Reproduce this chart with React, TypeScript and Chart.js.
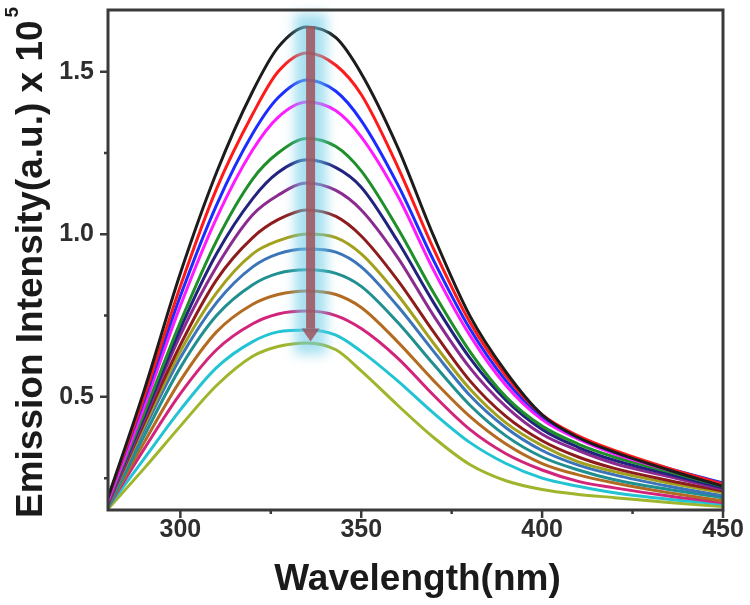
import React, { useEffect, useRef } from 'react';
import { Chart, registerables } from 'chart.js';

Chart.register(...registerables);

// ---- data ----
const WAVELENGTHS = [280, 290, 300, 310, 320, 327, 335, 343, 350, 360, 370, 380, 390, 400, 410, 420, 435, 450];

const S_BLACK = [0.19, 0.52, 0.88, 1.19, 1.44, 1.575, 1.638, 1.605, 1.495, 1.27, 0.995, 0.75, 0.577, 0.445, 0.375, 0.33, 0.275, 0.225];
const S_RED = [0.19, 0.50, 0.84, 1.14, 1.37, 1.50, 1.558, 1.52, 1.43, 1.21, 0.955, 0.73, 0.565, 0.445, 0.38, 0.335, 0.28, 0.232];
const S_BLUE = [0.19, 0.49, 0.81, 1.09, 1.31, 1.42, 1.475, 1.44, 1.35, 1.155, 0.92, 0.71, 0.55, 0.44, 0.375, 0.33, 0.28, 0.235];
const S_MAGENTA = [0.18, 0.47, 0.78, 1.05, 1.26, 1.36, 1.407, 1.38, 1.30, 1.12, 0.89, 0.69, 0.535, 0.43, 0.37, 0.325, 0.275, 0.232];
const S_GREEN = [0.18, 0.45, 0.73, 0.98, 1.17, 1.25, 1.295, 1.27, 1.195, 1.02, 0.82, 0.64, 0.50, 0.41, 0.355, 0.315, 0.27, 0.225];
const S_NAVY = [0.18, 0.44, 0.71, 0.94, 1.11, 1.19, 1.229, 1.205, 1.145, 0.98, 0.79, 0.62, 0.49, 0.40, 0.345, 0.305, 0.262, 0.22];
const S_PURPLE = [0.17, 0.43, 0.69, 0.90, 1.06, 1.12, 1.158, 1.135, 1.075, 0.93, 0.75, 0.59, 0.47, 0.385, 0.335, 0.295, 0.255, 0.215];
const S_BROWN = [0.17, 0.42, 0.66, 0.86, 0.99, 1.045, 1.075, 1.055, 0.995, 0.86, 0.70, 0.55, 0.44, 0.365, 0.315, 0.28, 0.243, 0.21];
const S_OLIVE = [0.17, 0.41, 0.64, 0.82, 0.94, 0.98, 1.001, 0.99, 0.94, 0.815, 0.665, 0.525, 0.42, 0.35, 0.30, 0.27, 0.235, 0.205];
const S_STEEL = [0.17, 0.40, 0.62, 0.79, 0.90, 0.94, 0.955, 0.945, 0.90, 0.78, 0.64, 0.505, 0.405, 0.335, 0.29, 0.26, 0.225, 0.195];
const S_TEAL = [0.16, 0.38, 0.59, 0.75, 0.845, 0.88, 0.891, 0.88, 0.84, 0.73, 0.60, 0.475, 0.38, 0.315, 0.275, 0.245, 0.215, 0.19];
const S_ORANGE = [0.16, 0.36, 0.55, 0.70, 0.785, 0.815, 0.826, 0.815, 0.775, 0.67, 0.55, 0.44, 0.355, 0.295, 0.26, 0.235, 0.205, 0.18];
const S_CRIMSON = [0.16, 0.34, 0.51, 0.645, 0.725, 0.755, 0.764, 0.75, 0.71, 0.62, 0.505, 0.40, 0.325, 0.275, 0.24, 0.22, 0.195, 0.175];
const S_CYAN = [0.16, 0.31, 0.46, 0.59, 0.67, 0.70, 0.706, 0.69, 0.64, 0.55, 0.45, 0.36, 0.295, 0.25, 0.225, 0.205, 0.185, 0.17];
const S_YGREEN = [0.155, 0.28, 0.41, 0.535, 0.625, 0.655, 0.666, 0.645, 0.58, 0.475, 0.375, 0.292, 0.242, 0.215, 0.20, 0.19, 0.175, 0.163];

const SERIES = [S_BLACK, S_RED, S_BLUE, S_MAGENTA, S_GREEN, S_NAVY, S_PURPLE, S_BROWN, S_OLIVE, S_STEEL, S_TEAL, S_ORANGE, S_CRIMSON, S_CYAN, S_YGREEN];
const COLORS = ['#1c1c1c', '#ff1a1a', '#1a2cff', '#ff1aff', '#1f8f2a', '#22227f', '#8b2a8f', '#8e1c1c', '#a3a01e', '#3b74b8', '#1f8f8f', '#b36b22', '#d2247a', '#22c4d4', '#9fb52c'];

const X_MIN = 280;
const X_MAX = 450;
const Y_MIN = 0.152;
const Y_MAX = 1.69;
const X_MAJOR = [300, 350, 400, 450];
const X_MINOR = [325, 375, 425];
const Y_MAJOR = [0.5, 1.0, 1.5];
const Y_MINOR = [0.25, 0.75, 1.25];

// arrow annotation (in data units)
const ARROW_WL = 336;
const ARROW_TOP = 1.64;
const ARROW_HEAD = 0.71;
const ARROW_TIP = 0.67;
const GLOW_TOP = 1.68;
const GLOW_BOTTOM = 0.63;

const X_TITLE = 'Wavelength(nm)';
const Y_TITLE = 'Emission Intensity(a.u.) x 10';
const Y_TITLE_SUP = '5';

const FONT = '"Liberation Sans", Arial, sans-serif';
const AXIS_COLOR = '#3a3a3a';

const decorPlugin = {
  id: 'decor',
  afterDatasetsDraw(chart: any) {
    const ctx = chart.ctx as CanvasRenderingContext2D;
    const xs = chart.scales.x;
    const ys = chart.scales.y;
    const cx = xs.getPixelForValue(ARROW_WL);
    const gTop = ys.getPixelForValue(GLOW_TOP);
    const gBot = ys.getPixelForValue(GLOW_BOTTOM);
    // glow
    ctx.save();
    ctx.filter = 'blur(6px)';
    ctx.fillStyle = 'rgba(110, 205, 232, 0.6)';
    ctx.fillRect(cx - 16, gTop, 32, gBot - gTop);
    ctx.restore();
    // arrow shaft
    const top = ys.getPixelForValue(ARROW_TOP);
    const head = ys.getPixelForValue(ARROW_HEAD);
    const tip = ys.getPixelForValue(ARROW_TIP);
    ctx.save();
    ctx.fillStyle = 'rgba(160, 82, 92, 0.85)';
    ctx.fillRect(cx - 4.5, top, 9, head - top);
    ctx.beginPath();
    ctx.moveTo(cx - 9, head);
    ctx.lineTo(cx + 9, head);
    ctx.lineTo(cx, tip);
    ctx.closePath();
    ctx.fill();
    ctx.restore();
  },
  afterDraw(chart: any) {
    const ctx = chart.ctx as CanvasRenderingContext2D;
    const a = chart.chartArea;
    const xs = chart.scales.x;
    const ys = chart.scales.y;
    ctx.save();
    ctx.strokeStyle = AXIS_COLOR;
    ctx.lineWidth = 3;
    ctx.strokeRect(a.left, a.top, a.right - a.left, a.bottom - a.top);
    ctx.lineWidth = 2.5;
    ctx.beginPath();
    X_MAJOR.forEach((v) => {
      const p = xs.getPixelForValue(v);
      ctx.moveTo(p, a.bottom);
      ctx.lineTo(p, a.bottom + 8);
    });
    X_MINOR.forEach((v) => {
      const p = xs.getPixelForValue(v);
      ctx.moveTo(p, a.bottom);
      ctx.lineTo(p, a.bottom + 4);
    });
    Y_MAJOR.forEach((v) => {
      const p = ys.getPixelForValue(v);
      ctx.moveTo(a.left, p);
      ctx.lineTo(a.left - 8, p);
    });
    Y_MINOR.forEach((v) => {
      const p = ys.getPixelForValue(v);
      ctx.moveTo(a.left, p);
      ctx.lineTo(a.left - 4, p);
    });
    ctx.stroke();

    // titles
    ctx.fillStyle = '#1a1a1a';
    ctx.font = `bold 37px ${FONT}`;
    ctx.textAlign = 'center';
    ctx.textBaseline = 'alphabetic';
    ctx.fillText(X_TITLE, (a.left + a.right) / 2 + 2, 590);

    ctx.translate(42, 518);
    ctx.rotate(-Math.PI / 2);
    ctx.textAlign = 'left';
    ctx.font = `bold 37px ${FONT}`;
    ctx.fillText(Y_TITLE, 0, 0);
    const w = ctx.measureText(Y_TITLE).width;
    ctx.font = `bold 19px ${FONT}`;
    ctx.fillText(Y_TITLE_SUP, w + 3, -24);
    ctx.restore();
  },
};

const zeroPad = (s: any) => {
  s.paddingTop = 0;
  s.paddingBottom = 0;
  s.paddingLeft = 0;
  s.paddingRight = 0;
};

export default function App() {
  const ref = useRef<HTMLCanvasElement>(null);
  useEffect(() => {
    document.body.style.margin = '0';
    const datasets = SERIES.map((s, i) => ({
      label: `c${i}`,
      data: WAVELENGTHS.map((w, j) => ({ x: w, y: s[j] })),
      borderColor: COLORS[i],
      backgroundColor: COLORS[i],
      borderWidth: 3,
      pointRadius: 0,
      fill: false,
      cubicInterpolationMode: 'monotone' as const,
    }));
    const tickFont = { family: FONT, size: 25, weight: 'bold' as const };
    const chart = new Chart(ref.current!, {
      type: 'line',
      data: { datasets },
      plugins: [decorPlugin],
      options: {
        responsive: false,
        animation: false,
        layout: { padding: { top: 10, right: 27, left: 0, bottom: 0 } },
        plugins: { legend: { display: false }, tooltip: { enabled: false } },
        scales: {
          x: {
            type: 'linear',
            min: X_MIN,
            max: X_MAX,
            afterBuildTicks: (s: any) => {
              s.ticks = X_MAJOR.map((v) => ({ value: v }));
            },
            afterFit: (s: any) => {
              s.height = 95;
              zeroPad(s);
            },
            grid: { display: false, drawTicks: false },
            border: { display: false },
            ticks: {
              padding: 5,
              font: tickFont,
              color: '#2e2e2e',
              maxRotation: 0,
              autoSkip: false,
              callback: (v: any) => String(v),
            },
          },
          y: {
            type: 'linear',
            min: Y_MIN,
            max: Y_MAX,
            afterBuildTicks: (s: any) => {
              s.ticks = Y_MAJOR.map((v) => ({ value: v }));
            },
            afterFit: (s: any) => {
              s.width = 108;
              zeroPad(s);
            },
            grid: { display: false, drawTicks: false },
            border: { display: false },
            ticks: {
              padding: 14,
              font: tickFont,
              color: '#2e2e2e',
              autoSkip: false,
              callback: (v: any) => Number(v).toFixed(1),
            },
          },
        },
      },
    });
    return () => chart.destroy();
  }, []);
  return (
    <div style={{ width: 750, height: 605 }}>
      <canvas ref={ref} width={750} height={605} style={{ display: 'block' }} />
    </div>
  );
}
